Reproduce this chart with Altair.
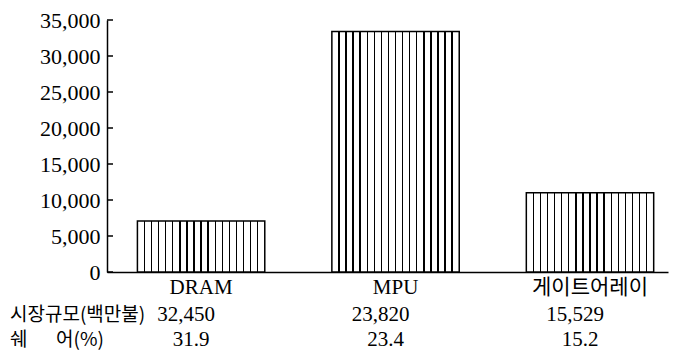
import altair as alt
import pandas as pd

# ---- data ----
categories = ["DRAM", "MPU", "게이트어레이"]
values = [7100, 33400, 11000]
market_size = ["32,450", "23,820", "15,529"]
share = ["31.9", "23.4", "15.2"]
row_labels = ["시장규모(백만불)", "쉐\u3000\u2002어(%)"]
y_ticks = [0, 5000, 10000, 15000, 20000, 25000, 30000, 35000]

df = pd.DataFrame({"cat": categories, "val": values, "size": market_size, "share": share})
ticks_df = pd.DataFrame({"val": y_ticks})

# ---- vertical hatch via hard-stop gradient ----
N = 18
w = 1.4 / 127
stops = [alt.GradientStop(offset=0, color="white")]
for i in range(1, N):
    c = i / N
    stops += [
        alt.GradientStop(offset=c - w / 2, color="white"),
        alt.GradientStop(offset=c - w / 2, color="black"),
        alt.GradientStop(offset=c + w / 2, color="black"),
        alt.GradientStop(offset=c + w / 2, color="white"),
    ]
stops.append(alt.GradientStop(offset=1, color="white"))
hatch = alt.LinearGradient(gradient="linear", stops=stops, x1=0, x2=1, y1=0, y2=0)

SERIF = "Liberation Serif, Noto Sans CJK KR"
KR = "Noto Sans CJK KR"

y_scale = alt.Scale(domain=[0, 35000], nice=False)

x_enc = alt.X(
    "cat:N",
    sort=categories,
    scale=alt.Scale(paddingInner=0.345, paddingOuter=0.115, align=0.68),
    axis=alt.Axis(title=None, labelAngle=0, labelPadding=4),
)
y_enc = alt.Y(
    "val:Q",
    scale=y_scale,
    axis=alt.Axis(values=y_ticks, format=",d", title=None, labelPadding=7),
)

bars = alt.Chart(df).mark_bar(fill=hatch, stroke="black", strokeWidth=1.5).encode(
    x=x_enc, y=y_enc
)

tick_marks = alt.Chart(ticks_df).mark_rule(color="black", strokeWidth=1.5).encode(
    y=alt.Y("val:Q", scale=y_scale, axis=None), x=alt.value(0), x2=alt.value(6)
)

row1 = alt.Chart(df).mark_text(
    font="Liberation Serif", fontSize=21, baseline="middle", dx=-15, color="black"
).encode(x=alt.X("cat:N", sort=categories), y=alt.value(295), text="size:N")

row2 = alt.Chart(df).mark_text(
    font="Liberation Serif", fontSize=21, baseline="middle", dx=-10, color="black"
).encode(x=alt.X("cat:N", sort=categories), y=alt.value(320), text="share:N")

head1 = alt.Chart(pd.DataFrame({"label": [row_labels[0]]})).mark_text(
    font=KR, fontSize=19, align="left", baseline="middle", color="black"
).encode(x=alt.value(-97), y=alt.value(295), text="label:N")

head2 = alt.Chart(pd.DataFrame({"label": [row_labels[1]]})).mark_text(
    font=KR, fontSize=19, align="left", baseline="middle", color="black"
).encode(x=alt.value(-97), y=alt.value(320), text="label:N")

chart = (
    alt.layer(bars, tick_marks, row1, row2, head1, head2)
    .resolve_axis(y="independent")
    .properties(
        width=561, height=252,
        autosize=alt.AutoSizeParams(type="none"),
        padding={"left": 99, "top": 12, "right": 19, "bottom": 80},
        background="white",
    )
    .configure_view(stroke=None)
    .configure_axisY(
        labelFont="Liberation Serif", labelFontSize=22, labelColor="black",
        ticks=True, tickSize=0, domainColor="black", domainWidth=1.5, grid=False,
    )
    .configure_axisX(
        labelFont=SERIF, labelFontSize=21, labelColor="black",
        domainColor="black", domainWidth=1.5, ticks=False,
    )
)

chart.save("out.html", embed_options={"renderer": "svg", "actions": False})
